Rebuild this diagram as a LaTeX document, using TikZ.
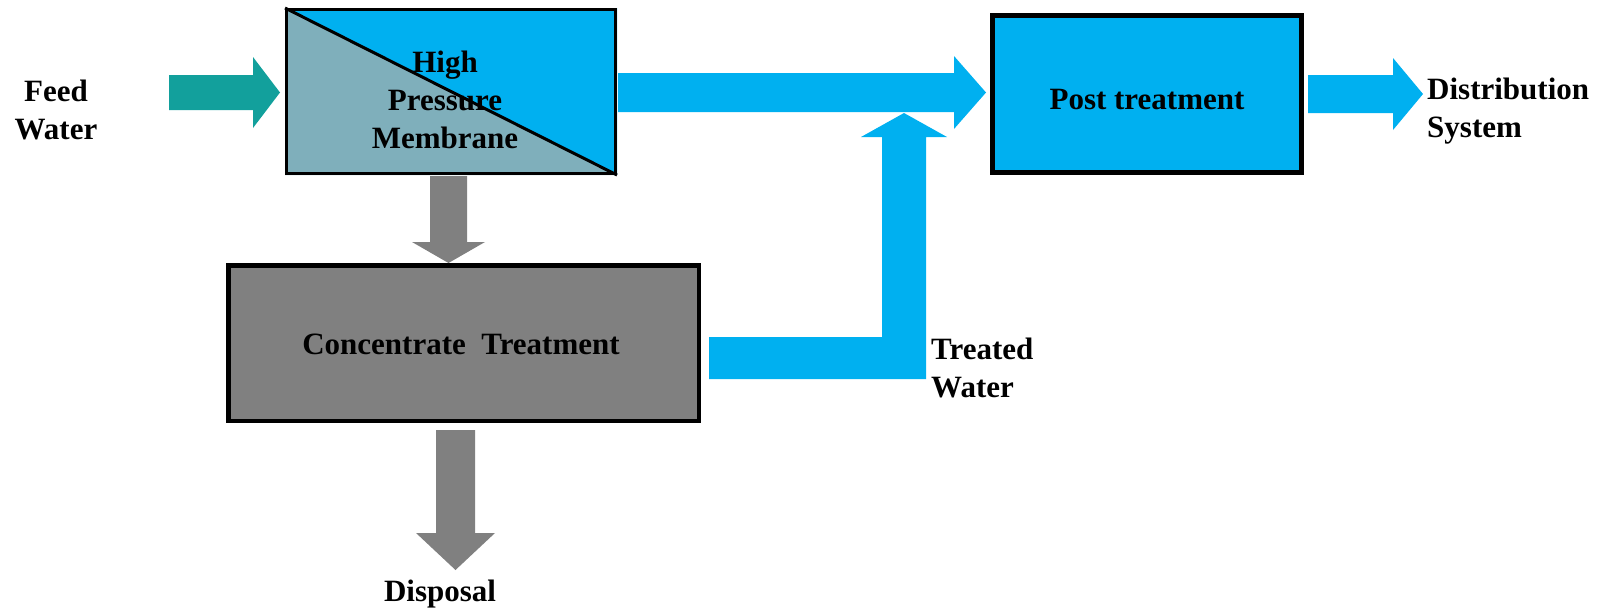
\documentclass[tikz,border=0pt]{standalone}
\usepackage{fontspec}
\setmainfont{Liberation Serif}
\definecolor{skyb}{HTML}{00B0F0}
\definecolor{tealf}{HTML}{12A09C}
\definecolor{memg}{HTML}{7FAFBB}
\definecolor{arrg}{HTML}{808080}
\definecolor{concg}{HTML}{808080}
\tikzset{
  lbl/.style={font=\bfseries\fontsize{31}{38}\selectfont, inner sep=0pt},
  boxline/.style={draw=black},
}
\begin{document}
\begin{tikzpicture}[x=1pt,y=-1pt]
\useasboundingbox (0,0) rectangle (1604,608);
% membrane box
\coordinate (memNW) at (285,8);
\coordinate (memSE) at (617,175);
\fill[memg] (285,8) -- (285,175) -- (617,175) -- cycle;
\fill[skyb] (285,8) -- (617,8) -- (617,175) -- cycle;
\draw[line width=3pt] (286.5,9.5) rectangle (615.5,173.5);
\draw[line width=3pt] (memNW) -- (memSE);
\node[lbl, align=center] (mem) at (445,100) {High\\Pressure\\Membrane};
% post treatment
\node[boxline, fill=skyb, line width=5pt, minimum width=309pt, minimum height=157pt, inner sep=0pt] (post) at (1147,94) {};
\node[lbl] (postt) at (1147,100) {Post treatment};
% concentrate treatment
\node[boxline, fill=concg, line width=4.5pt, minimum width=470.5pt, minimum height=155.5pt, inner sep=0pt] (conc) at (463.5,343) {};
\node[lbl] (conct) at (461,344) {Concentrate\ \ Treatment};
% labels
\node[lbl, align=center] (feed) at (56,110) {Feed\\Water};
\node[lbl, align=left, anchor=west] (dist) at (1427,111) {Distribution\\System};
\node[lbl, align=left, anchor=west] (treat) at (931,368) {Treated\\Water};
\node[lbl] (disp) at (440,594) {Disposal};
% feed arrow
\fill[tealf] (169,75) -- (253,75) -- (253,57) -- (280,92.5) -- (253,128) -- (253,110) -- (169,110) -- cycle;
% membrane to post treatment
\fill[skyb] (618,73) -- (954,73) -- (954,56) -- (986,92.5) -- (954,129) -- (954,112) -- (618,112) -- cycle;
% post treatment to distribution
\fill[skyb] (1308,75) -- (1393,75) -- (1393,58) -- (1423,94) -- (1393,130) -- (1393,113) -- (1308,113) -- cycle;
% membrane to concentrate
\fill[arrg] (430,176) -- (467,176) -- (467,242) -- (485,242) -- (448.5,263) -- (412,242) -- (430,242) -- cycle;
% concentrate to disposal
\fill[arrg] (436,430) -- (475,430) -- (475,533) -- (495,533) -- (455.5,570) -- (416,533) -- (436,533) -- cycle;
% treated water
\fill[skyb] (709,337) -- (882,337) -- (882,137) -- (861,137) -- (904,113) -- (947,137) -- (926,137) -- (926,379) -- (709,379) -- cycle;
\end{tikzpicture}
\end{document}
